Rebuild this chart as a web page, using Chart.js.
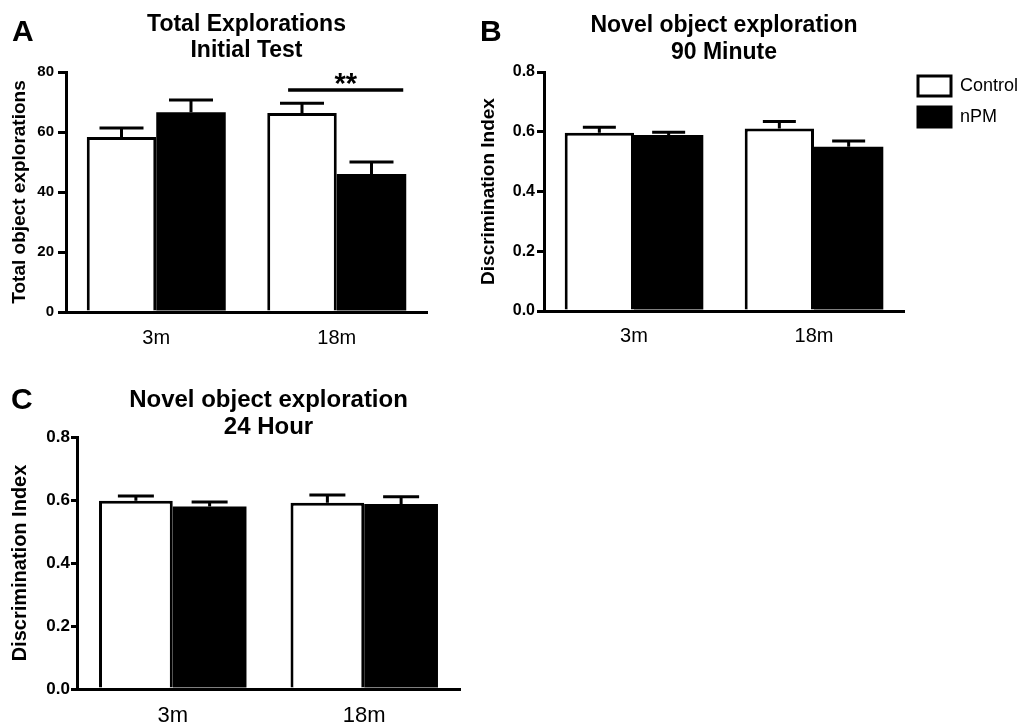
<!DOCTYPE html>
<html>
<head>
<meta charset="utf-8">
<title>Object exploration</title>
<script src="https://cdn.jsdelivr.net/npm/chart.js@4.4.1/dist/chart.umd.min.js"></script>
<style>
  html, body { margin: 0; padding: 0; background: #fff; overflow: hidden; }
  body { width: 1027px; height: 727px; position: relative; font-family: "Liberation Sans", Arial, sans-serif; }
  .panel { position: absolute; }
  .letter { position: absolute; font-size: 30px; font-weight: bold; line-height: 30px; color: #000; }
</style>
</head>
<body>
<canvas id="chartA" class="panel" width="450" height="350" style="left:0;top:0"></canvas>
<canvas id="chartB" class="panel" width="557" height="350" style="left:470px;top:0"></canvas>
<canvas id="chartC" class="panel" width="480" height="357" style="left:0;top:370px"></canvas>
<div class="letter" style="left:12px;top:16px">A</div>
<div class="letter" style="left:480px;top:16px">B</div>
<div class="letter" style="left:11px;top:384px">C</div>
<script>
// shared look
Chart.defaults.font.family = '"Liberation Sans", Arial, Helvetica, sans-serif';
Chart.defaults.color = '#000';

// categories and groups
const ageGroups = ['3m', '18m'];
const groupNames = ['Control', 'nPM'];

// A - total explorations, initial test
const totalControl = [58.3, 66.3];
const totalControlErr = [3.0, 3.3];
const totalNpm = [66.6, 46.0];
const totalNpmErr = [4.1, 4.0];
const totalTicks = [0, 20, 40, 60, 80];

// B - discrimination index, 90 minute
const ninetyControl = [0.597, 0.611];
const ninetyControlErr = [0.018, 0.023];
const ninetyNpm = [0.589, 0.550];
const ninetyNpmErr = [0.009, 0.019];

// C - discrimination index, 24 hour
const dayControl = [0.598, 0.591];
const dayControlErr = [0.015, 0.025];
const dayNpm = [0.579, 0.587];
const dayNpmErr = [0.015, 0.023];
const indexTicks = [0, 0.2, 0.4, 0.6, 0.8];

// significance in A: 18m Control vs nPM
const sigGroup = 1;
const sigLevel = 74;
const sigLabel = '**';

// upper error bars (mean + SEM)
const errorBars = {
    id: 'errorBars',
    afterDatasetsDraw(chart, args, opts) {
        const ctx = chart.ctx;
        const yScale = chart.scales.y;
        ctx.save();
        ctx.strokeStyle = '#000';
        ctx.lineWidth = opts.lineWidth;
        chart.data.datasets.forEach((ds, i) => {
            chart.getDatasetMeta(i).data.forEach((bar, j) => {
                const top = yScale.getPixelForValue(ds.data[j] + ds.errors[j]);
                const half = opts.capWidth / 2;
                ctx.beginPath();
                ctx.moveTo(bar.x, bar.y);
                ctx.lineTo(bar.x, top);
                ctx.moveTo(bar.x - half, top);
                ctx.lineTo(bar.x + half, top);
                ctx.stroke();
            });
        });
        ctx.restore();
    }
};

// significance line with stars
const sigBracket = {
    id: 'sigBracket',
    afterDatasetsDraw(chart, args, opts) {
        if (!opts.label) return;
        const ctx = chart.ctx;
        const a = chart.getDatasetMeta(0).data[opts.group];
        const b = chart.getDatasetMeta(1).data[opts.group];
        const y = chart.scales.y.getPixelForValue(opts.level);
        const x0 = a.x - a.width * 0.2;
        const x1 = b.x + b.width / 2 - 3;
        ctx.save();
        ctx.strokeStyle = '#000';
        ctx.lineWidth = 3.5;
        ctx.beginPath();
        ctx.moveTo(x0, y);
        ctx.lineTo(x1, y);
        ctx.stroke();
        ctx.fillStyle = '#000';
        ctx.font = 'bold 29px "Liberation Sans", Arial, sans-serif';
        ctx.textAlign = 'center';
        ctx.textBaseline = 'alphabetic';
        ctx.fillText(opts.label, (x0 + x1) / 2, y + 3);
        ctx.restore();
    }
};

// legend sits a little higher and further right than the layout puts it
const legendNudge = {
    id: 'legendNudge',
    afterLayout(chart, args, opts) {
        const lg = chart.legend;
        if (lg && opts.dy) {
            lg.top += opts.dy;
            lg.left += opts.dx;
            lg.right = chart.width;
        }
    }
};

function makePanel(id, p) {
    return new Chart(document.getElementById(id), {
        type: 'bar',
        data: {
            labels: ageGroups,
            datasets: [{
                label: groupNames[0],
                data: p.control,
                errors: p.controlErr,
                backgroundColor: '#fff',
                borderColor: '#000',
                borderWidth: 3,
                borderSkipped: 'start',
                barPercentage: 1,
                categoryPercentage: 0.77
            }, {
                label: groupNames[1],
                data: p.npm,
                errors: p.npmErr,
                backgroundColor: '#000',
                borderColor: '#000',
                borderWidth: 0,
                barPercentage: 1,
                categoryPercentage: 0.77
            }]
        },
        plugins: [errorBars, sigBracket, legendNudge],
        options: {
            responsive: false,
            animation: false,
            layout: { padding: { left: 0, top: 0, bottom: 0, right: p.padRight } },
            plugins: {
                tooltip: { enabled: false },
                title: {
                    display: true,
                    text: p.title,
                    fullSize: false,
                    color: '#000',
                    font: { size: p.titleSize, weight: 'bold', lineHeight: p.titleLine },
                    padding: p.titlePad
                },
                legend: {
                    display: p.legend,
                    position: 'right',
                    align: 'start',
                    fullSize: false,
                    maxWidth: 110,
                    labels: {
                        boxWidth: 33,
                        boxHeight: 20,
                        padding: 11,
                        color: '#000',
                        font: { size: 18 },
                        generateLabels(chart) {
                            return Chart.defaults.plugins.legend.labels.generateLabels(chart)
                                .map(item => ({ ...item, lineWidth: 3, strokeStyle: '#000' }));
                        }
                    }
                },
                legendNudge: { dx: 3, dy: -7 },
                errorBars: { lineWidth: 3, capWidth: p.capWidth },
                sigBracket: p.sig || {}
            },
            scales: {
                x: {
                    offset: true,
                    z: 1,
                    grid: { display: false, drawTicks: false },
                    border: { display: true, color: '#000', width: 3 },
                    ticks: { color: '#000', font: { size: p.xFont }, padding: p.xPad },
                    afterFit(s) { s.height = p.xHeight; }
                },
                y: {
                    min: 0,
                    max: p.ticks[p.ticks.length - 1],
                    afterBuildTicks(s) { s.ticks = p.ticks.map(v => ({ value: v })); },
                    grid: { display: true, drawOnChartArea: false, drawTicks: true, tickLength: p.tickLen, color: '#000', lineWidth: 3 },
                    border: { display: true, color: '#000', width: 3 },
                    ticks: {
                        color: '#000',
                        font: { size: p.yFont, weight: 'bold' },
                        padding: p.yPad,
                        callback: v => v.toFixed(p.digits)
                    },
                    title: {
                        display: true,
                        text: p.yTitle,
                        color: '#000',
                        font: { size: p.yTitleSize, weight: 'bold' },
                        padding: { top: p.yTitlePad, bottom: 0 }
                    },
                    afterFit(s) { s.width = p.yWidth; }
                }
            }
        }
    });
}

makePanel('chartA', {
    control: totalControl, controlErr: totalControlErr,
    npm: totalNpm, npmErr: totalNpmErr,
    ticks: totalTicks, digits: 0,
    title: ['Total Explorations', 'Initial Test'],
    titleSize: 23, titleLine: 26.5 / 23, titlePad: { top: 11, bottom: 8 },
    yTitle: 'Total object explorations', yTitleSize: 19, yTitlePad: 8,
    yWidth: 66, yFont: 15, yPad: 4, tickLen: 8,
    xHeight: 38, xFont: 20, xPad: 14,
    padRight: 23, capWidth: 44, legend: false,
    sig: { group: sigGroup, level: sigLevel, label: sigLabel }
});

makePanel('chartB', {
    control: ninetyControl, controlErr: ninetyControlErr,
    npm: ninetyNpm, npmErr: ninetyNpmErr,
    ticks: indexTicks, digits: 1,
    title: ['Novel object exploration', '90 Minute'],
    titleSize: 23, titleLine: 27 / 23, titlePad: { top: 12, bottom: 6 },
    yTitle: 'Discrimination Index', yTitleSize: 19, yTitlePad: 7,
    yWidth: 74, yFont: 16, yPad: 2, tickLen: 7,
    xHeight: 39, xFont: 20, xPad: 13,
    padRight: 13, capWidth: 33, legend: true
});

makePanel('chartC', {
    control: dayControl, controlErr: dayControlErr,
    npm: dayNpm, npmErr: dayNpmErr,
    ticks: indexTicks, digits: 1,
    title: ['Novel object exploration', '24 Hour'],
    titleSize: 24, titleLine: 27 / 24, titlePad: { top: 17, bottom: -4 },
    yTitle: 'Discrimination Index', yTitleSize: 20, yTitlePad: 8,
    yWidth: 77, yFont: 17, yPad: 1, tickLen: 6,
    xHeight: 38, xFont: 22, xPad: 14,
    padRight: 20, capWidth: 36, legend: false
});
</script>
</body>
</html>
